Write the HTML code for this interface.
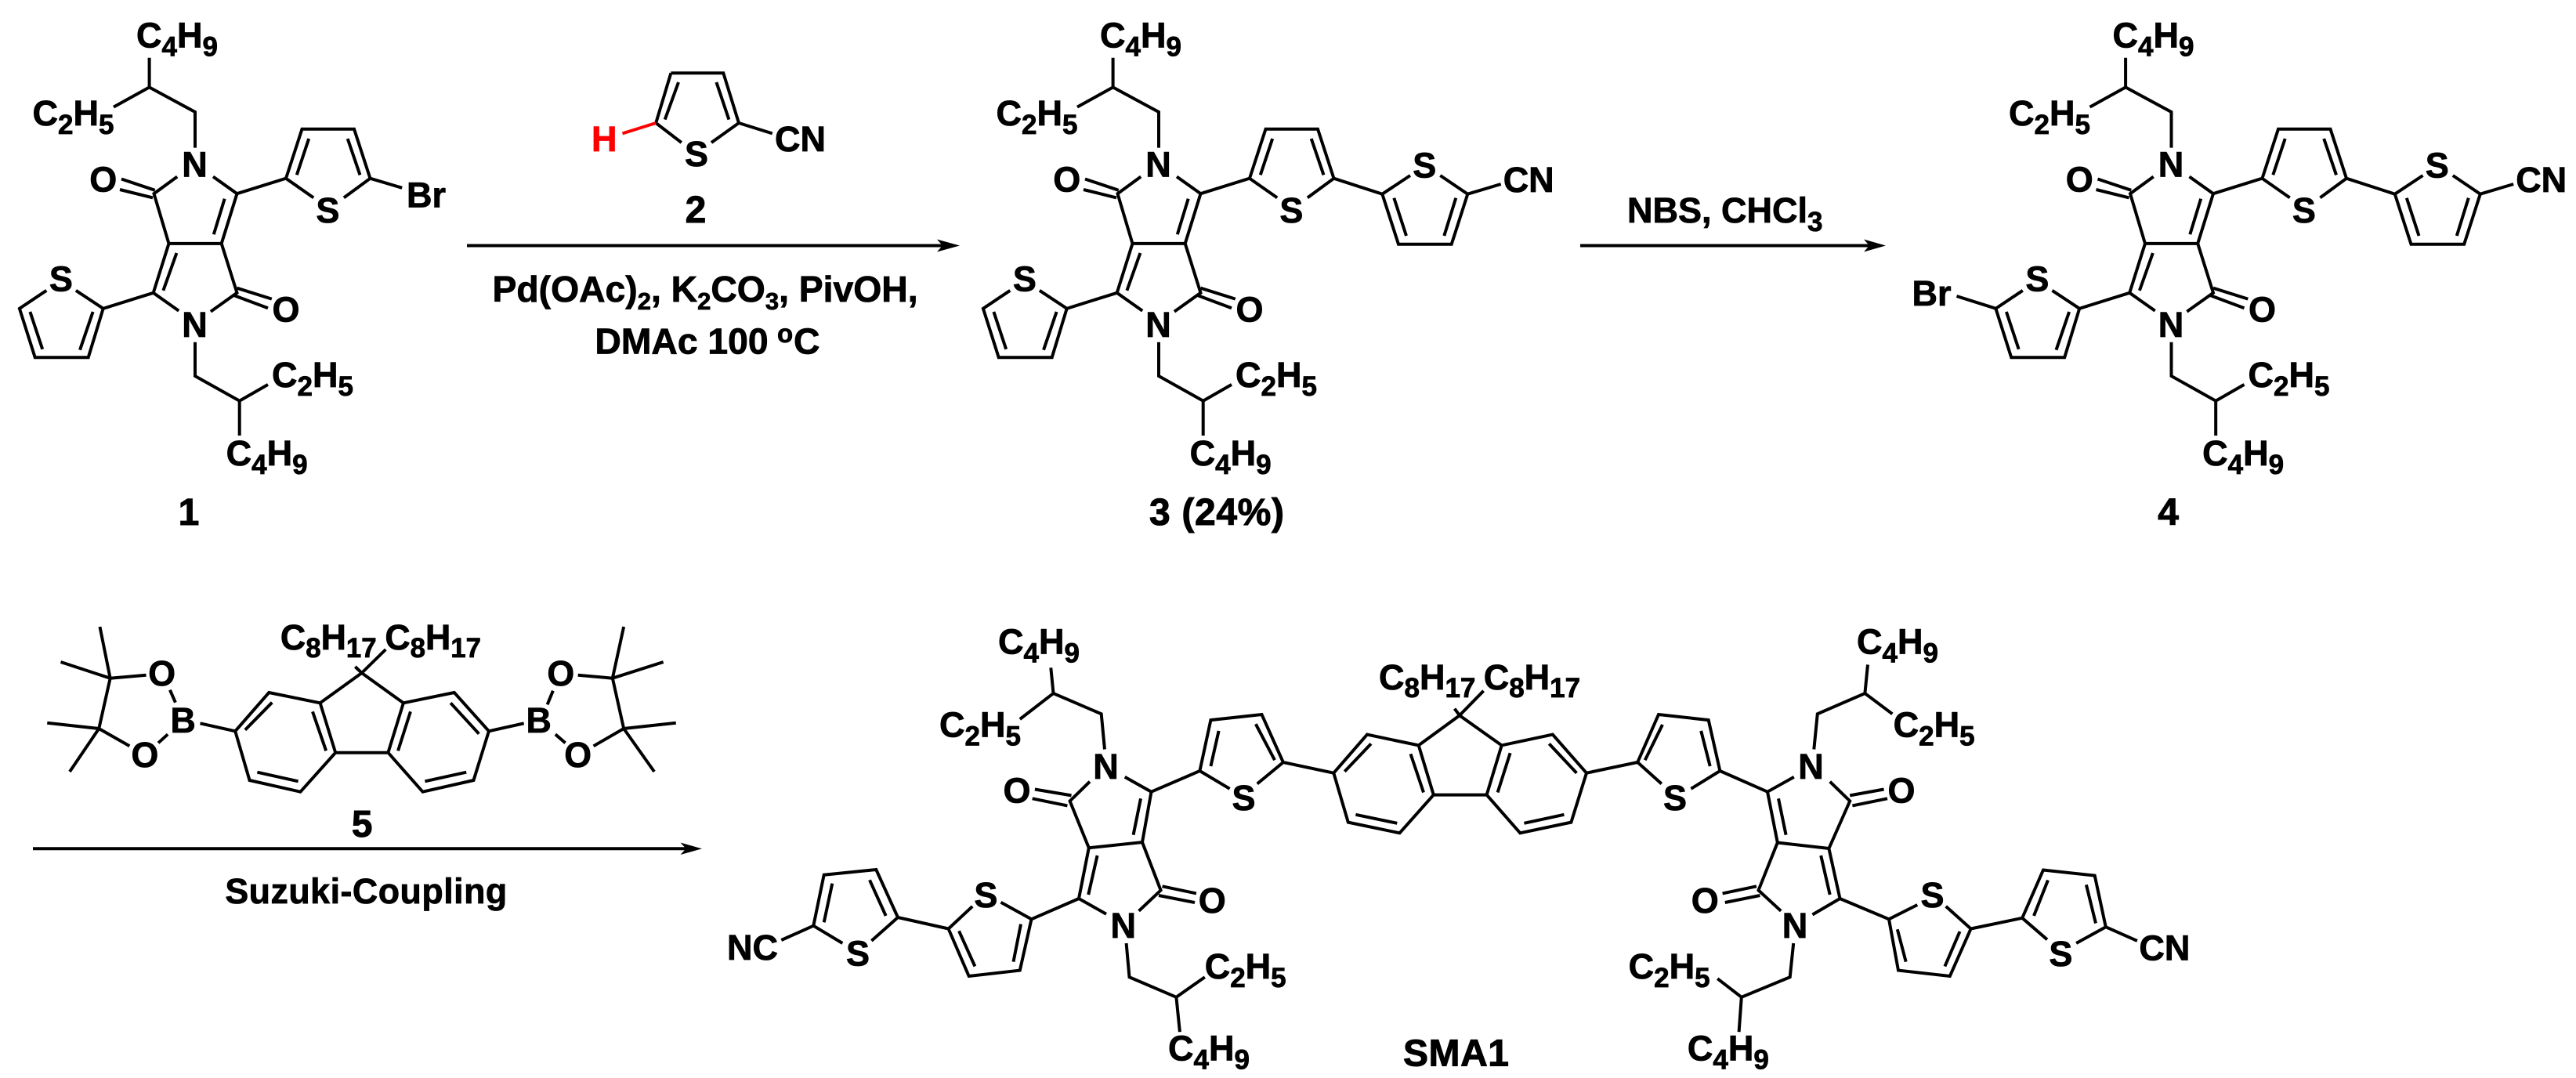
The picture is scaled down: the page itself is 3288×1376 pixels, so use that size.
<!DOCTYPE html>
<html>
<head>
<meta charset="utf-8">
<style>
html,body{margin:0;padding:0;background:#fff;width:3288px;height:1376px;overflow:hidden}
svg{display:block}
text{font-family:"Liberation Sans",Arial,sans-serif;font-weight:bold;font-size:45px;fill:#000;stroke:#000;stroke-width:.8px}
.m{text-anchor:middle}
.s{font-size:35px}
.r{font-size:46.3px}
.rs{font-size:31px}
.l{font-size:48px;stroke-width:1px}
path{fill:none;stroke:#000;stroke-width:4;stroke-linejoin:miter}
.h{fill:#000;stroke:none}
</style>
</head>
<body>
<svg width="3288" height="1376" viewBox="0 0 3288 1376" xmlns="http://www.w3.org/2000/svg">
<defs>
<path id="core" d="M249 188.6V143L190.6 111.4L145 136.6M190.6 111.4V73.7M226.2 225.5L196.5 247.2L215.5 310.9L282.7 310.9L302.5 247.2L272 225.5M286.7 253.7L272.8 299.2M197.7 242.8L155 228.5M195 252.4L153 242M215.5 310.9L195.7 373.8L228.2 396.8M225.4 323L208.4 370.8M282.7 310.9L302.5 373.8L268.9 397.7M302.5 367.7L346.8 381.6M299.3 377.3L342 393.3M249 436.7V480L305.7 511.7L342 490.9M305.7 511.7V556M195.7 373.8L131.7 393.8L112.7 456.2H44.7L24.9 393.8L59.3 370.8M131.7 393.8L96.9 370.8M118.6 398L102 446.7M38.4 398L54.2 445.8M302.5 247.2L365 227.7L385.5 164.8H452L472.5 227.7L438.9 252.4M365 227.7L400.2 252.4M378.8 223.3L394.2 177M443.7 177L459.5 223.3"/>
<path id="bi" d="M472.5 227.7L534.3 247.7L555 311.7H622.7L643.3 247.7L608.3 224M534.3 247.7L570 224M549.3 252.7L565 301M628.3 252.7L613.3 301M643.3 247.7L685.7 235"/>
</defs>

<!-- Molecule 1 -->
<g>
<use href="#core"/>
<path d="M472.5 227.7L513.2 239.8"/>
<text x="174" y="60.7">C<tspan class="s" dy="11">4</tspan><tspan dy="-11">H</tspan><tspan class="s" dy="11">9</tspan></text>
<text x="41.5" y="160">C<tspan class="s" dy="11">2</tspan><tspan dy="-11">H</tspan><tspan class="s" dy="11">5</tspan></text>
<text x="347" y="494">C<tspan class="s" dy="11">2</tspan><tspan dy="-11">H</tspan><tspan class="s" dy="11">5</tspan></text>
<text x="288.6" y="594">C<tspan class="s" dy="11">4</tspan><tspan dy="-11">H</tspan><tspan class="s" dy="11">9</tspan></text>
<text class="m" x="248.5" y="225.5">N</text>
<text class="m" x="248.5" y="430">N</text>
<text class="m" x="131.7" y="244.5">O</text>
<text class="m" x="365" y="410.5">O</text>
<text class="m" x="418.4" y="284">S</text>
<text class="m" x="77.9" y="371.5">S</text>
<text x="519" y="264.5">Br</text>
<text class="m l" x="241" y="670">1</text>
</g>

<!-- Molecule 2 -->
<path d="M856.4 93.2H923.3L943 157L908 182M856.4 93.2L837.2 157L869.8 182M866 105L848.7 152.6M914.4 105L930.4 152.6M943 157L985.8 170.4"/>
<path d="M837.2 157L794.5 170.4" style="stroke:#f00"/>
<text x="755" y="193" style="fill:#f00;stroke:#f00">H</text>
<text class="m" x="889" y="212">S</text>
<text x="989" y="193">CN</text>
<text class="m l" x="888" y="284">2</text>

<!-- Arrow 1 -->
<path d="M596 313.5H1205"/>
<path class="h" d="M1225 313.5L1196 305.5L1203 313.5L1196 321.5Z"/>
<text class="r" x="628.5" y="385">Pd(OAc)<tspan class="rs" dy="10">2</tspan><tspan dy="-10">, K</tspan><tspan class="rs" dy="10">2</tspan><tspan dy="-10">CO</tspan><tspan class="rs" dy="10">3</tspan><tspan dy="-10">, PivOH,</tspan></text>
<text class="r" x="759.4" y="451.5">DMAc 100 </text>
<text x="992" y="437" style="font-size:33px">o</text>
<text class="r" x="1013" y="451.5">C</text>

<!-- Molecule 3 -->
<g transform="translate(1230)">
<use href="#core"/><use href="#bi"/>
<text x="174" y="60.7">C<tspan class="s" dy="11">4</tspan><tspan dy="-11">H</tspan><tspan class="s" dy="11">9</tspan></text>
<text x="41.5" y="160">C<tspan class="s" dy="11">2</tspan><tspan dy="-11">H</tspan><tspan class="s" dy="11">5</tspan></text>
<text x="347" y="494">C<tspan class="s" dy="11">2</tspan><tspan dy="-11">H</tspan><tspan class="s" dy="11">5</tspan></text>
<text x="288.6" y="594">C<tspan class="s" dy="11">4</tspan><tspan dy="-11">H</tspan><tspan class="s" dy="11">9</tspan></text>
<text class="m" x="248.5" y="225.5">N</text>
<text class="m" x="248.5" y="430">N</text>
<text class="m" x="131.7" y="244.5">O</text>
<text class="m" x="365" y="410.5">O</text>
<text class="m" x="418.4" y="284">S</text>
<text class="m" x="77.9" y="371.5">S</text>
<text class="m" x="588.3" y="226.5">S</text>
<text x="688.7" y="245">CN</text>
</g>
<text class="l" x="1467" y="670" textLength="172">3 (24%)</text>

<!-- Arrow 2 -->
<path d="M2017 313.5H2387"/>
<path class="h" d="M2407 313.5L2379 305.5L2386 313.5L2379 321.5Z"/>
<text x="2077" y="284">NBS, CHCl<tspan class="s" dy="11">3</tspan></text>

<!-- Molecule 4 -->
<g transform="translate(2522.5)">
<use href="#core"/><use href="#bi"/>
<path d="M24.9 393.8L-25 378"/>
<text x="174" y="60.7">C<tspan class="s" dy="11">4</tspan><tspan dy="-11">H</tspan><tspan class="s" dy="11">9</tspan></text>
<text x="41.5" y="160">C<tspan class="s" dy="11">2</tspan><tspan dy="-11">H</tspan><tspan class="s" dy="11">5</tspan></text>
<text x="347" y="494">C<tspan class="s" dy="11">2</tspan><tspan dy="-11">H</tspan><tspan class="s" dy="11">5</tspan></text>
<text x="288.6" y="594">C<tspan class="s" dy="11">4</tspan><tspan dy="-11">H</tspan><tspan class="s" dy="11">9</tspan></text>
<text class="m" x="248.5" y="225.5">N</text>
<text class="m" x="248.5" y="430">N</text>
<text class="m" x="131.7" y="244.5">O</text>
<text class="m" x="365" y="410.5">O</text>
<text class="m" x="418.4" y="284">S</text>
<text class="m" x="77.9" y="371.5">S</text>
<text class="m" x="588.3" y="226.5">S</text>
<text x="688.7" y="245">CN</text>
<text x="-82" y="390">Br</text>
</g>
<text class="m l" x="2767.6" y="670">4</text>

<!-- Molecule 5 -->
<g transform="scale(.9942 1)">
<path d="M456 851L464.4 859L495.2 829M464.4 859L411 897.3M464.4 859L517.9 897.3M411 897.3L345.3 884L302 933.3L320.4 996L385.7 1010.7L430.7 960.7L411 897.3M430.7 960.7H498.3M517.9 897.3L583.2 884L627.6 933.3L608 996L542.7 1010.7L498.3 960.7L517.9 897.3M349.3 896.7L314.7 931.7M401.3 908.3L418.6 958.3M330.3 985.7L382.8 997.3M578.5 897.3L614.9 936.7M527 908.3L511 958.3M545.6 997.3L598.7 985.7"/>
<path d="M302 933.3L257 923.3M225.2 896.7L218.2 880.7M203.2 948.3L215.4 937.3M141.5 865.7L187.6 861.7M127 930L166.3 952.3M141.5 865.7L127 930M141.5 865.7L128.2 800M141.5 865.7L78 845M127 930L60.6 922.7M127 930L89.5 985"/>
<path d="M627.6 933.3L672.6 923.3M702.7 899.3L710 881.7M713 937.3L725.8 948.3M742 861.7L786.4 865.7M762 952.3L800.8 930M786.4 865.7L800.8 930M786.4 865.7L800.8 800M786.4 865.7L851.6 845M800.8 930L867.8 922.7M800.8 930L840 985"/>
<text class="m" x="235" y="935">B</text>
<text class="m" x="207.9" y="875">O</text>
<text class="m" x="186" y="979">O</text>
<text class="m" x="691.7" y="935">B</text>
<text class="m" x="720" y="875">O</text>
<text class="m" x="742" y="979">O</text>
<text x="360" y="829">C<tspan class="s" dy="10">8</tspan><tspan dy="-10">H</tspan><tspan class="s" dy="10">17</tspan></text>
<text x="494.2" y="829">C<tspan class="s" dy="10">8</tspan><tspan dy="-10">H</tspan><tspan class="s" dy="10">17</tspan></text>
<text class="m l" x="464.8" y="1068">5</text>
<text x="289" y="1153" textLength="362">Suzuki-Coupling</text>
</g>

<!-- Arrow 3 -->
<path d="M42 1083.3H878"/>
<path class="h" d="M896 1083.3L868.5 1075.5L875.5 1083.3L868.5 1091Z"/>

<!-- SMA1 bonds -->
<path d="M1391 997.7L1365.6 1022.5L1389.8 1082.2L1458 1075.1L1469.5 1010.7L1435.7 991.8M1446.6 1065.7L1456 1019.3M1367.5 1015.4L1320.9 1007.5M1362.4 1028.4L1317.7 1019.3M1410 956.5L1405.7 911.3L1344.5 885L1301.8 918M1344.5 885L1341.3 852.3M1412 1166.7L1377 1147L1389.8 1082.2M1400.6 1092L1389.2 1142M1458 1075.1L1481.6 1136.4L1453.6 1162.8M1483.5 1131.3L1526.9 1140.4M1479 1143L1525 1152M1437.6 1204L1441.5 1247.2L1501.4 1272.8L1537.8 1247.2M1501.4 1272.8L1505.9 1317.2"/>
<path d="M1469.5 1010.7L1531.4 984L1545.4 919.1L1610.5 912L1637.9 973L1604.7 1000.5M1531.4 984L1569.6 1006.8M1545.4 978L1555.6 932.9M1602.8 924.2L1627 970.2M1637.9 973L1702.3 986.7"/>
<path d="M1702.3 986.7L1745 937.6L1810.7 951.4L1829.8 1014.6L1786.5 1063.3L1720.8 1049.6L1702.3 986.7M1810.7 951.4L1863 913.2L1916.7 951.4L1981.8 937.6L2025 986.7L2005.4 1049.6L1940.3 1063.3L1897.6 1014.6L1916.7 951.4M1829.8 1014.6H1897.6M1750 949.4L1716.3 984.8M1800.5 962.4L1817 1011.5M1730.4 1039.8L1783.3 1050.8M1927.6 961.2L1911.6 1011.5M1977.3 949.4L2012.4 986.7M1945.4 1050.8L1996.4 1039.8M1856.6 904.6L1863 913.2L1893.6 881.8"/>
<path d="M2025 986.7L2090.2 973L2117 912L2180.7 919.1L2195.4 984L2158.4 1006.8M2090.2 973L2120.8 1000.5M2099.7 970.2L2122 925M2182.7 978L2171.2 932.9M2195.4 984L2256 1010.7L2289.8 991.8"/>
<path d="M2335.7 997.7L2361.2 1022.5L2334.4 1083L2268.8 1075.5L2256 1010.7M2279.6 1065.7L2270 1019.3M2361.2 1015.4L2404.6 1007.5M2364.4 1028.4L2409 1019.3M2315.3 956.5L2319.8 911.3L2380.4 885L2415.4 911.3M2380.4 885L2384 848.4M2268.8 1075.5L2244.5 1136.4L2273.2 1162.8M2334.4 1083L2348.5 1147L2313.4 1167.5M2324.2 1092L2335.7 1142M2242 1131.3L2198.6 1140.4M2246.4 1143L2201.8 1152M2289.2 1204L2284.7 1247.2L2222.8 1272.8L2192.2 1249.2M2222.8 1272.8L2219.6 1317.2"/>
<path d="M2348.5 1147L2411 1173.3L2423 1238.6L2488.8 1246L2515.6 1185.5L2483.7 1156.9M2411 1173.3L2447.3 1155M2421.8 1186.3L2432.7 1227.6M2482.4 1233.5L2501.5 1189M2515.6 1185.5L2581.2 1171.8L2608 1110.5L2673.7 1117.6L2687.8 1183.2L2650.1 1204M2581.2 1171.8L2613 1199.3M2596 1169L2614 1123.5M2675 1178.5L2662.9 1129.4M2687.8 1183.2L2727.9 1200.9"/>
<path d="M1377 1147L1316.5 1173.3L1301.8 1238.6L1236.7 1246L1210.6 1185.5L1241.2 1156.9M1316.5 1173.3L1277.5 1151.7M1293.5 1227.6L1303 1179.6M1244.4 1233.5L1224 1188.3M1210.6 1185.5L1146 1171L1118.3 1110L1051.7 1116.7L1038.3 1181.7L1075.4 1204M1146 1171L1112.4 1200.9M1130.7 1169L1110 1123.3M1051.7 1177.3L1062.3 1127.7M1038.3 1181.7L997.3 1200"/>

<!-- SMA1 labels -->
<text x="1274" y="834.7">C<tspan class="s" dy="11">4</tspan><tspan dy="-11">H</tspan><tspan class="s" dy="11">9</tspan></text>
<text x="1199" y="940.7">C<tspan class="s" dy="11">2</tspan><tspan dy="-11">H</tspan><tspan class="s" dy="11">5</tspan></text>
<text class="m" x="1411.5" y="994">N</text>
<text class="m" x="1433.8" y="1197">N</text>
<text class="m" x="1298" y="1024.5">O</text>
<text class="m" x="1547.3" y="1165">O</text>
<text x="1537.7" y="1249">C<tspan class="s" dy="11">2</tspan><tspan dy="-11">H</tspan><tspan class="s" dy="11">5</tspan></text>
<text x="1491" y="1353.3">C<tspan class="s" dy="11">4</tspan><tspan dy="-11">H</tspan><tspan class="s" dy="11">9</tspan></text>
<text class="m" x="1587.5" y="1034">S</text>
<text class="m" x="1258.4" y="1158">S</text>
<text class="m" x="1095" y="1232.5">S</text>
<text x="928" y="1225">NC</text>
<text x="1760" y="880">C<tspan class="s" dy="10">8</tspan><tspan dy="-10">H</tspan><tspan class="s" dy="10">17</tspan></text>
<text x="1893.7" y="880">C<tspan class="s" dy="10">8</tspan><tspan dy="-10">H</tspan><tspan class="s" dy="10">17</tspan></text>
<text class="m" x="2138" y="1034">S</text>
<text class="m" x="2311.5" y="994">N</text>
<text class="m" x="2291" y="1197">N</text>
<text class="m" x="2427" y="1024.5">O</text>
<text class="m" x="2176.3" y="1165">O</text>
<text x="2370" y="834.7">C<tspan class="s" dy="11">4</tspan><tspan dy="-11">H</tspan><tspan class="s" dy="11">9</tspan></text>
<text x="2416.6" y="940.7">C<tspan class="s" dy="11">2</tspan><tspan dy="-11">H</tspan><tspan class="s" dy="11">5</tspan></text>
<text x="2078.6" y="1249">C<tspan class="s" dy="11">2</tspan><tspan dy="-11">H</tspan><tspan class="s" dy="11">5</tspan></text>
<text x="2153.9" y="1353.3">C<tspan class="s" dy="11">4</tspan><tspan dy="-11">H</tspan><tspan class="s" dy="11">9</tspan></text>
<text class="m" x="2466.5" y="1158">S</text>
<text class="m" x="2630.4" y="1233">S</text>
<text x="2730.4" y="1225.6">CN</text>
<text class="l" x="1791" y="1360.5" textLength="135">SMA1</text>
</svg>
</body>
</html>
